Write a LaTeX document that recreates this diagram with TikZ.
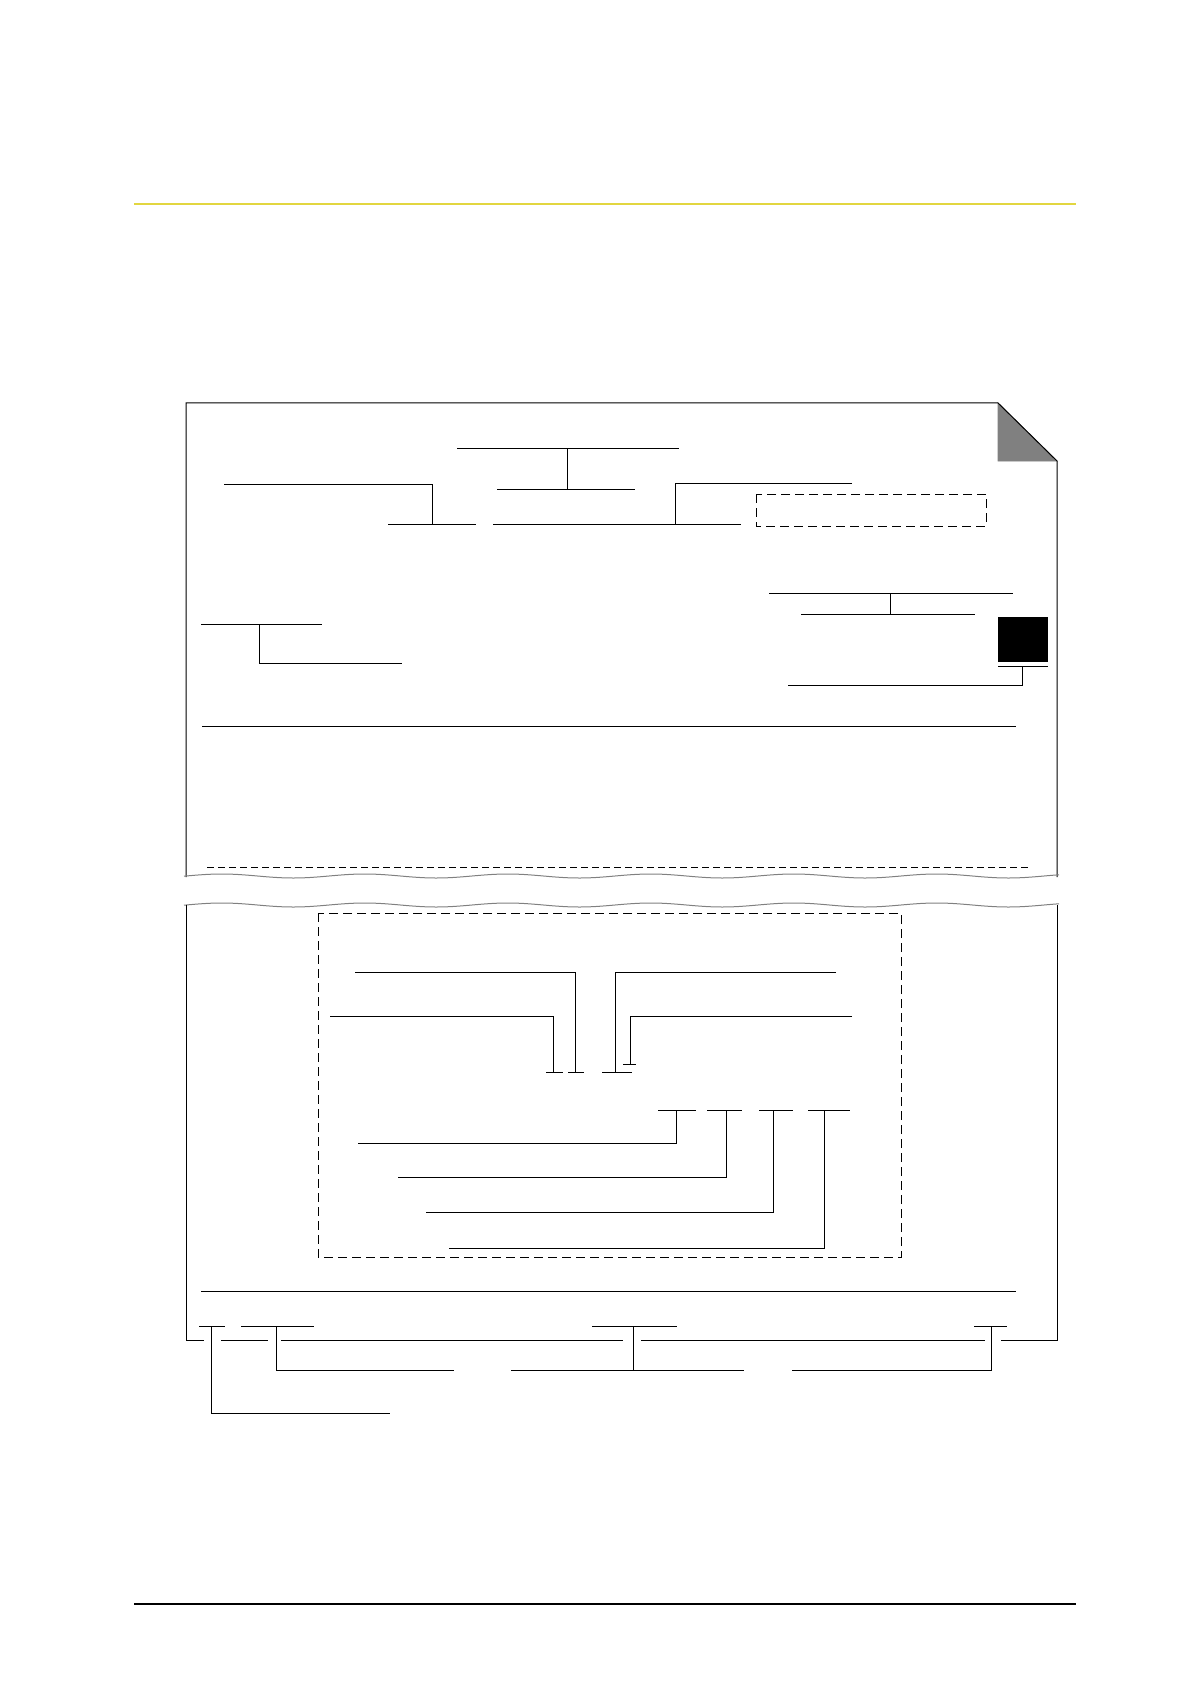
\documentclass[tikz,border=0pt]{standalone}
\usetikzlibrary{calc}
\definecolor{ruleyellow}{RGB}{226,214,64}
\definecolor{foldgray}{RGB}{128,128,128}
\tikzset{
  leader/.style={line width=0.5pt},
  sheet/.style={line width=0.5pt},
  dashbox/.style={line width=0.5pt, dash pattern=on 4.5pt off 2.5pt},
  cutline/.style={line width=0.5pt, gray},
}
\begin{document}
\begin{tikzpicture}[x=0.5pt, y=-0.5pt]
\useasboundingbox (0,0) rectangle (1190,1684);
% page rules
\coordinate (hl) at (134,204);
\coordinate (hr) at (1076,204);
\coordinate (fl) at (134,1604);
\coordinate (fr) at (1076,1604);
\draw[ruleyellow, line width=0.6pt] (hl) -- (hr);
\draw[line width=1pt] (fl) -- (fr);

% upper sheet
\coordinate (s1) at (186,877);
\coordinate (s2) at (186,403);
\coordinate (s3) at (998,403);
\coordinate (s4) at (1057,461);
\coordinate (s5) at (1057,877);
\filldraw[foldgray, draw=gray, line width=0.4pt] (s3) -- (s3 |- s4) -- (s4) -- cycle;
\draw[sheet] (s1) -- (s2) -- (s3) -- (s4) -- (s5);
\draw[cutline] plot[domain=184:1059, samples=140, smooth] (\x, {876 - 2*sin((\x-186)*2.5175)});

% title leaders
\coordinate (t1a) at (457,448);
\coordinate (t1b) at (679,448);
\coordinate (t1s) at (567,448);
\coordinate (t2a) at (497,489);
\coordinate (t2b) at (635,489);
\draw[leader] (t1a) -- (t1b);
\draw[leader] (t1s) -- (t1s |- t2a);
\draw[leader] (t2a) -- (t2b);
\coordinate (t3a) at (224,484);
\coordinate (t3e) at (432,524);
\coordinate (t4a) at (388,524);
\coordinate (t4b) at (476,524);
\draw[leader] (t3a) -| (t3e);
\draw[leader] (t4a) -- (t4b);
\coordinate (t5a) at (493,524);
\coordinate (t5b) at (741,524);
\coordinate (t6a) at (852,483);
\coordinate (t6e) at (675,524);
\draw[leader] (t5a) -- (t5b);
\draw[leader] (t6a) -| (t6e);
\coordinate (t7a) at (756,494);
\coordinate (t7b) at (986,526);
\draw[dashbox] (t7a) rectangle (t7b);

% address block
\coordinate (u1a) at (769,593);
\coordinate (u1b) at (1013,593);
\coordinate (u1s) at (890,593);
\coordinate (u2a) at (801,614);
\coordinate (u2b) at (975,614);
\draw[leader] (u1a) -- (u1b);
\draw[leader] (u1s) -- (u1s |- u2a);
\draw[leader] (u2a) -- (u2b);
\coordinate (sqa) at (998,617);
\coordinate (sqb) at (1048,662);
\fill (sqa) rectangle (sqb);
\coordinate (squ1) at (998,666);
\coordinate (squ2) at (1048,666);
\coordinate (sqs) at (1022,666);
\coordinate (sqe) at (788,685);
\draw[leader] (squ1) -- (squ2);
\draw[leader] (sqs) |- (sqe);
\coordinate (v1a) at (201,624);
\coordinate (v1b) at (322,624);
\coordinate (v1s) at (259,624);
\coordinate (v1e) at (402,663);
\draw[leader] (v1a) -- (v1b);
\draw[leader] (v1s) |- (v1e);
\coordinate (w1a) at (202,726);
\coordinate (w1b) at (1016,726);
\draw[leader] (w1a) -- (w1b);
\coordinate (w2a) at (207,867);
\coordinate (w2b) at (1029,867);
\draw[line width=0.5pt, dash pattern=on 3.5pt off 2pt] (w2a) -- (w2b);

% lower sheet
\draw[cutline] plot[domain=184:1059, samples=140, smooth] (\x, {905 - 2*sin((\x-186)*2.5175)});
\coordinate (l1) at (186,905);
\coordinate (l2) at (186,1340);
\coordinate (l3) at (1057,1340);
\coordinate (l4) at (1057,905);
\draw[sheet] (l1) -- (l2) -- (204,1340);
\draw[sheet] (221,1340) -- (268,1340);
\draw[sheet] (281,1340) -- (623,1340);
\draw[sheet] (641,1340) -- (985,1340);
\draw[sheet] (1001,1340) -- (l3) -- (l4);
\coordinate (ib1) at (318,913);
\coordinate (ib2) at (901,1257);
\draw[dashbox] (ib1) rectangle (ib2);

% inner leaders
\coordinate (m1a) at (355,972);
\coordinate (m1e) at (575,1072);
\coordinate (m2a) at (330,1016);
\coordinate (m2e) at (553,1072);
\coordinate (m3a) at (836,972);
\coordinate (m3e) at (615,1072);
\coordinate (m4a) at (852,1016);
\coordinate (m4e) at (630,1064);
\draw[leader] (m1a) -| (m1e);
\draw[leader] (m2a) -| (m2e);
\draw[leader] (m3a) -| (m3e);
\draw[leader] (m4a) -| (m4e);
\draw[leader] (568,1072) -- (584,1072);
\draw[leader] (546,1072) -- (563,1072);
\draw[leader] (602,1072) -- (632,1072);
\draw[leader] (623,1064) -- (636,1064);
\coordinate (n1s) at (676,1110);
\coordinate (n1e) at (358,1143);
\coordinate (n2s) at (726,1110);
\coordinate (n2e) at (398,1177);
\coordinate (n3s) at (773,1110);
\coordinate (n3e) at (426,1212);
\coordinate (n4s) at (824,1110);
\coordinate (n4e) at (449,1248);
\draw[leader] (658,1110) -- (696,1110);
\draw[leader] (707,1110) -- (742,1110);
\draw[leader] (759,1110) -- (793,1110);
\draw[leader] (808,1110) -- (850,1110);
\draw[leader] (n1s) |- (n1e);
\draw[leader] (n2s) |- (n2e);
\draw[leader] (n3s) |- (n3e);
\draw[leader] (n4s) |- (n4e);

% footer leaders
\coordinate (p1a) at (201,1291);
\coordinate (p1b) at (1016,1291);
\draw[leader] (p1a) -- (p1b);
\coordinate (q1s) at (211,1326);
\coordinate (q1e) at (390,1413);
\coordinate (q2s) at (276,1326);
\coordinate (q2e) at (454,1370);
\coordinate (q3s) at (633,1326);
\coordinate (q3e) at (633,1370);
\coordinate (q4s) at (991,1326);
\coordinate (q4e) at (792,1370);
\draw[leader] (199,1326) -- (225,1326);
\draw[leader] (241,1326) -- (314,1326);
\draw[leader] (592,1326) -- (677,1326);
\draw[leader] (974,1326) -- (1007,1326);
\draw[leader] (q1s) |- (q1e);
\draw[leader] (q2s) |- (q2e);
\draw[leader] (q3s) -- (q3e);
\draw[leader] (511,1370) -- (744,1370);
\draw[leader] (q4s) |- (q4e);
\end{tikzpicture}
\end{document}
